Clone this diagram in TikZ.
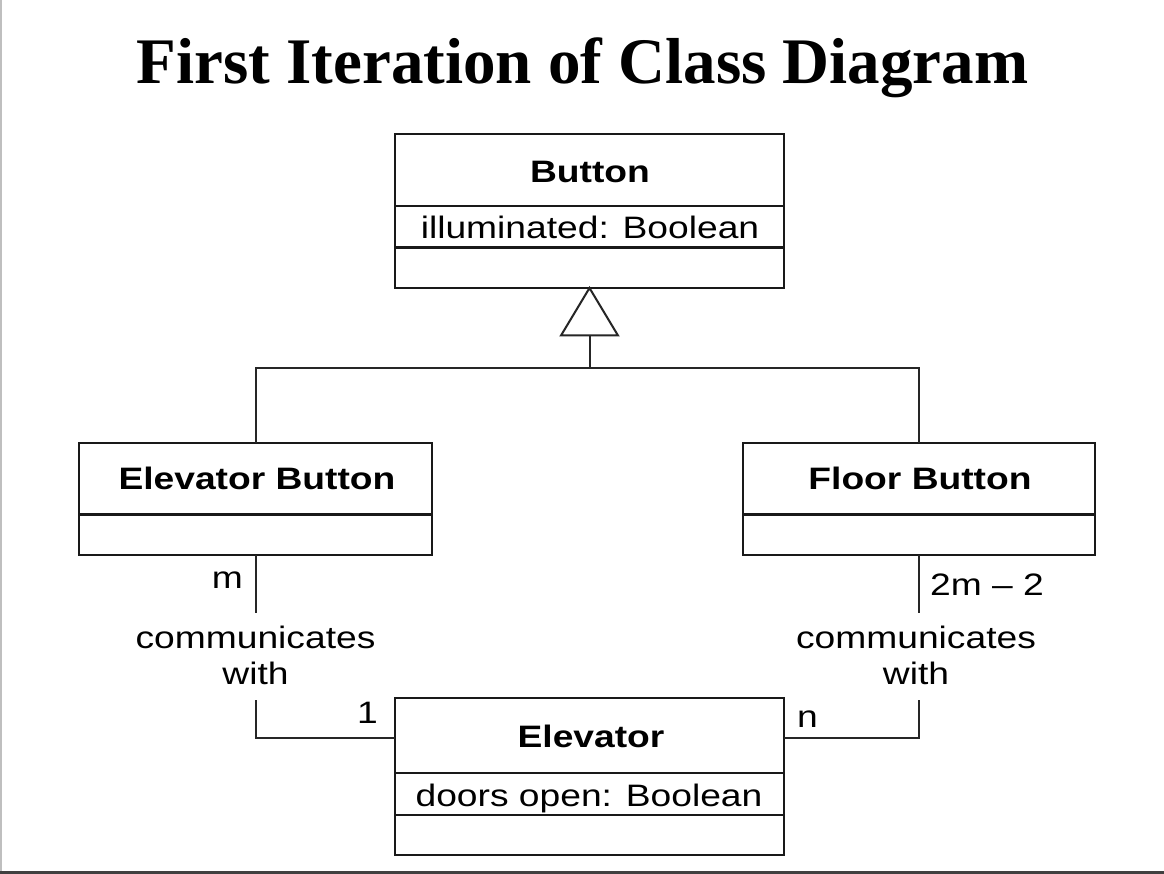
\documentclass[tikz,border=0pt]{standalone}
\usepackage{fontspec}
\setmainfont{Liberation Serif}
\newfontfamily\umlfont[FakeStretch=1.2]{Liberation Sans}
\begin{document}
\begin{tikzpicture}[x=1pt,y=-1pt,
  umlbox/.style={draw=black!90, line width=2.6pt, fill=none, inner sep=0pt, outer sep=0pt, anchor=north west},
  divider/.style={draw=black!90, line width=2.4pt},
  conn/.style={draw=black!85, line width=2pt},
  cname/.style={font={\umlfont\bfseries\fontsize{31}{36}\selectfont}, anchor=base, inner sep=0pt},
  attr/.style={font={\umlfont\fontsize{31}{36}\selectfont}, anchor=base, inner sep=0pt},
  lbl/.style={font={\umlfont\fontsize{31}{36}\selectfont}, inner sep=0pt, align=center},
  titletext/.style={font={\bfseries\fontsize{65}{70}\selectfont}, anchor=base, inner sep=0pt}
]
\useasboundingbox (0,0) rectangle (1164,874);
\fill[white] (0,0) rectangle (1164,874);
% screen edges
\draw[black!25, line width=1.5pt] (0.75,0) -- (0.75,874);
\draw[black!75, line width=2.5pt] (0,872.5) -- (1164,872.5);

% title
\node[titletext] (title) at (582.5,83.3) {First Iteration of Class Diagram};

% Button class
\node[umlbox, minimum width=389pt, minimum height=154pt] (button) at (395,134) {};
\draw[divider] (395,206) -- (784,206);
\draw[divider] (395,247.5) -- (784,247.5);
\node[cname] (buttonname) at (590,183) {Button};
\node[attr] (buttonattr) at (590,239) {illuminated: Boolean};

% Elevator Button class
\node[umlbox, minimum width=353pt, minimum height=112pt] (eb) at (79,443) {};
\draw[divider] (79,514.5) -- (432,514.5);
\node[cname] (ebname) at (257,489) {Elevator Button};

% Floor Button class
\node[umlbox, minimum width=352pt, minimum height=112pt] (fb) at (743,443) {};
\draw[divider] (743,514.5) -- (1095,514.5);
\node[cname] (fbname) at (920,489) {Floor Button};

% Elevator class
\node[umlbox, minimum width=389pt, minimum height=157pt] (elev) at (395,698) {};
\draw[divider] (395,773) -- (784,773);
\draw[divider] (395,815) -- (784,815);
\node[cname] (elevname) at (591,747) {Elevator};
\node[attr] (elevattr) at (589,806) {doors open: Boolean};

% generalization
\coordinate (tl) at (561,335.5);
\coordinate (tr) at (618,335.5);
\coordinate (tb) at (button.south |- 0,335.5);
\coordinate (hub) at (button.south |- 0,367.5);
\draw[conn, line join=miter] (button.south) -- (tl) -- (tr) -- cycle;
\draw[conn] (tb) -- (hub);
\draw[conn] (eb.north) |- (hub) -| (fb.north);

% left association
\coordinate (l1) at (eb.south |- 0,613);
\coordinate (l2) at (eb.south |- 0,700);
\coordinate (la) at (elev.west |- 0,737.5);
\draw[conn] (eb.south) -- (l1);
\draw[conn] (l2) |- (la);
\node[lbl, anchor=north] (lcom) at (255.5,625.5) {communicates\\with};
\node[attr, anchor=base east] (lm) at (243,588) {m};
\node[attr, anchor=base east] (l1lbl) at (378,723) {1};

% right association
\coordinate (r1) at (fb.south |- 0,613);
\coordinate (r2) at (fb.south |- 0,700);
\coordinate (ra) at (elev.east |- 0,737.5);
\draw[conn] (fb.south) -- (r1);
\draw[conn] (r2) |- (ra);
\node[lbl, anchor=north] (rcom) at (916,625.5) {communicates\\with};
\node[attr, anchor=base west] (rm) at (930,595) {2m – 2};
\node[attr, anchor=base west] (rn) at (797,727) {n};
\end{tikzpicture}
\end{document}
